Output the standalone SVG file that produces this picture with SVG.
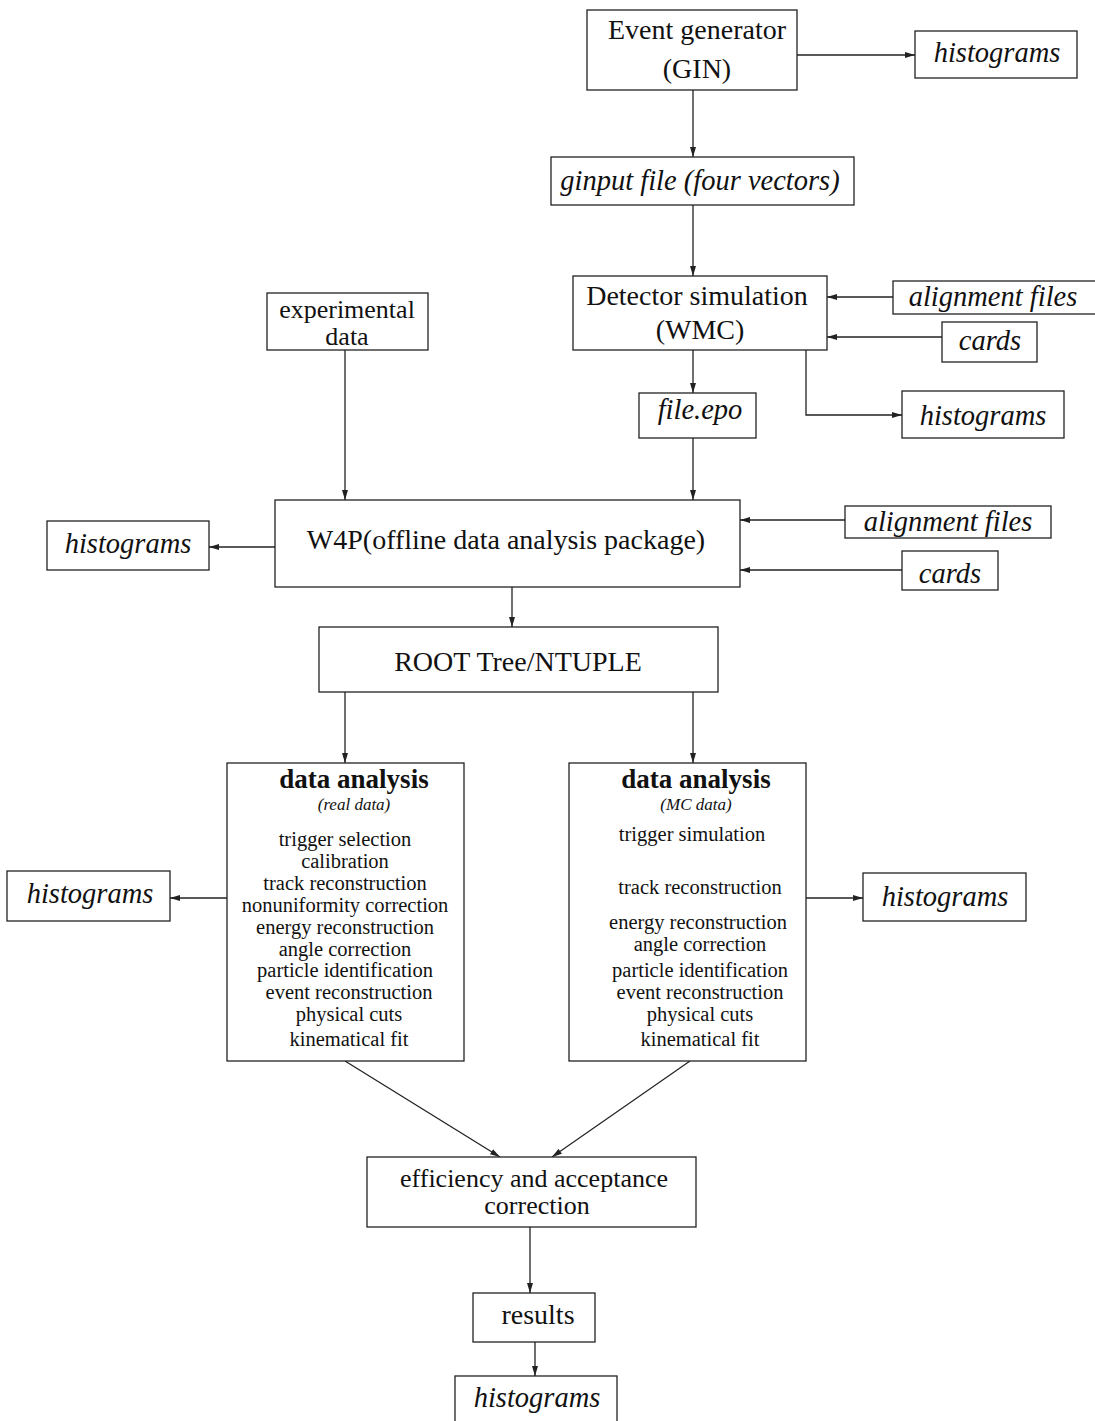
<svg xmlns="http://www.w3.org/2000/svg" width="1095" height="1421" viewBox="0 0 1095 1421">
<style>
rect{fill:#fff;stroke:#222;stroke-width:1.3}
text{font-family:"Liberation Serif","DejaVu Serif",serif;fill:#111;text-anchor:middle}
.t{font-size:28px}
.t2{font-size:26px}
.i{font-size:28.5px;font-style:italic}
.b{font-size:27px;font-weight:bold}
.s{font-size:17px;font-style:italic}
.m{font-size:20.5px}
#edges path{fill:none;stroke:#222;stroke-width:1.3}
</style>
<defs>
<marker id="a" viewBox="0 0 10 6" refX="10" refY="3" markerWidth="10" markerHeight="6" markerUnits="userSpaceOnUse" orient="auto"><path d="M0,0L10,3L0,6z" fill="#222"/></marker>
</defs>
<rect width="1095" height="1421" style="fill:#fff;stroke:none"/>
<g id="edges">
<path d="M797,55H915" marker-end="url(#a)"/>
<path d="M693,90V157" marker-end="url(#a)"/>
<path d="M693,205V276" marker-end="url(#a)"/>
<path d="M893,297H827" marker-end="url(#a)"/>
<path d="M942,337H827" marker-end="url(#a)"/>
<path d="M693,350V393" marker-end="url(#a)"/>
<path d="M806,350V415H902" marker-end="url(#a)"/>
<path d="M345,350V500" marker-end="url(#a)"/>
<path d="M693,438V500" marker-end="url(#a)"/>
<path d="M275,547H209" marker-end="url(#a)"/>
<path d="M845,520H740" marker-end="url(#a)"/>
<path d="M902,570H740" marker-end="url(#a)"/>
<path d="M512,587V627" marker-end="url(#a)"/>
<path d="M345,692V763" marker-end="url(#a)"/>
<path d="M693,692V763" marker-end="url(#a)"/>
<path d="M227,898H170" marker-end="url(#a)"/>
<path d="M806,898H863" marker-end="url(#a)"/>
<path d="M345,1061L500,1157" marker-end="url(#a)"/>
<path d="M690,1061L552,1157" marker-end="url(#a)"/>
<path d="M530,1227V1293" marker-end="url(#a)"/>
<path d="M535,1342V1376" marker-end="url(#a)"/>
</g>
<g id="gen"><rect x="587" y="10" width="210" height="80"/><text class="t" x="697" y="39">Event generator</text><text class="t" x="697" y="78">(GIN)</text></g>
<g id="hist1"><rect x="915" y="31" width="162" height="47"/><text class="i" x="997" y="62">histograms</text></g>
<g id="ginput"><rect x="551" y="157" width="303" height="48"/><text class="i" x="700" y="190">ginput file (four vectors)</text></g>
<g id="wmc"><rect x="573" y="276" width="254" height="74"/><text class="t" x="697" y="305">Detector simulation</text><text class="t" x="700" y="339">(WMC)</text></g>
<g id="align1"><rect x="893" y="281" width="205" height="33"/><text class="i" x="993" y="306">alignment files</text></g>
<g id="cards1"><rect x="942" y="322" width="95" height="40"/><text class="i" x="990" y="350">cards</text></g>
<g id="exp"><rect x="267" y="293" width="161" height="57"/><text class="t2" x="347" y="318">experimental</text><text class="t2" x="347" y="345">data</text></g>
<g id="epo"><rect x="639" y="393" width="117" height="45"/><text class="i" x="700" y="419">file.epo</text></g>
<g id="hist2"><rect x="902" y="391" width="162" height="47"/><text class="i" x="983" y="425">histograms</text></g>
<g id="w4p"><rect x="275" y="500" width="465" height="87"/><text class="t" x="506" y="549">W4P(offline data analysis package)</text></g>
<g id="hist3"><rect x="47" y="521" width="162" height="49"/><text class="i" x="128" y="553">histograms</text></g>
<g id="align2"><rect x="845" y="506" width="206" height="32"/><text class="i" x="948" y="531">alignment files</text></g>
<g id="cards2"><rect x="902" y="551" width="96" height="39"/><text class="i" x="950" y="583">cards</text></g>
<g id="root"><rect x="319" y="627" width="399" height="65"/><text class="t" x="518" y="671">ROOT Tree/NTUPLE</text></g>
<g id="real"><rect x="227" y="763" width="237" height="298"/>
<text class="b" x="354" y="788">data analysis</text>
<text class="s" x="354" y="810">(real data)</text>
<text class="m" x="345" y="846">trigger selection</text>
<text class="m" x="345" y="868">calibration</text>
<text class="m" x="345" y="890">track reconstruction</text>
<text class="m" x="345" y="912">nonuniformity correction</text>
<text class="m" x="345" y="934">energy reconstruction</text>
<text class="m" x="345" y="956">angle correction</text>
<text class="m" x="345" y="977">particle identification</text>
<text class="m" x="349" y="999">event reconstruction</text>
<text class="m" x="349" y="1021">physical cuts</text>
<text class="m" x="349" y="1046">kinematical fit</text>
</g>
<g id="mc"><rect x="569" y="763" width="237" height="298"/>
<text class="b" x="696" y="788">data analysis</text>
<text class="s" x="696" y="810">(MC data)</text>
<text class="m" x="692" y="841">trigger simulation</text>
<text class="m" x="700" y="894">track reconstruction</text>
<text class="m" x="698" y="929">energy reconstruction</text>
<text class="m" x="700" y="951">angle correction</text>
<text class="m" x="700" y="977">particle identification</text>
<text class="m" x="700" y="999">event reconstruction</text>
<text class="m" x="700" y="1021">physical cuts</text>
<text class="m" x="700" y="1046">kinematical fit</text>
</g>
<g id="hist4"><rect x="7" y="871" width="163" height="50"/><text class="i" x="90" y="903">histograms</text></g>
<g id="hist5"><rect x="863" y="873" width="163" height="48"/><text class="i" x="945" y="906">histograms</text></g>
<g id="eff"><rect x="367" y="1157" width="329" height="70"/><text class="t2" x="534" y="1187">efficiency and acceptance</text><text class="t2" x="537" y="1214">correction</text></g>
<g id="results"><rect x="473" y="1293" width="122" height="49"/><text class="t" x="538" y="1324">results</text></g>
<g id="hist6"><rect x="455" y="1376" width="162" height="50"/><text class="i" x="537" y="1407">histograms</text></g>
</svg>
